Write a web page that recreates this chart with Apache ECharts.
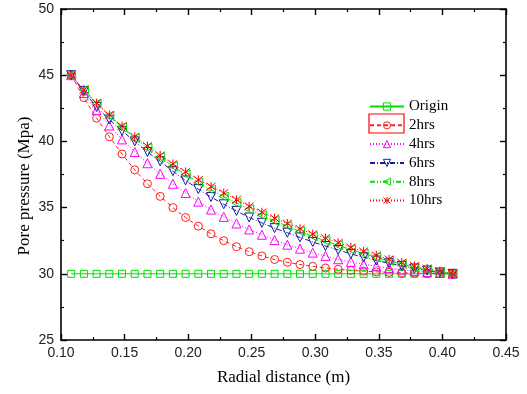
<!DOCTYPE html>
<html><head><meta charset="utf-8">
<script src="https://cdn.jsdelivr.net/npm/echarts@6/dist/echarts.min.js"></script>
<style>html,body{margin:0;padding:0;background:#fff}#c{width:527px;height:394px}</style>
</head><body><div id="c"></div>
<script>
const radius = [0.108,0.118,0.128,0.138,0.148,0.158,0.168,0.178,0.188,0.198,0.208,0.218,0.228,0.238,0.248,0.258,0.268,0.278,0.288,0.298,0.308,0.318,0.328,0.338,0.348,0.358,0.368,0.378,0.388,0.398,0.408];
const origin = [30,30,30,30,30,30,30,30,30,30,30,30,30,30,30,30,30,30,30,30,30,30,30,30,30,30,30,30,30,30,30];
const hrs2 = [45,43.3,41.75,40.35,39.05,37.85,36.8,35.85,35.0,34.25,33.6,33.02,32.5,32.05,31.67,31.35,31.08,30.87,30.7,30.56,30.44,30.34,30.26,30.2,30.15,30.11,30.08,30.05,30.03,30.01,30.0];
const hrs4 = [45,43.65,42.35,41.2,40.15,39.2,38.35,37.55,36.8,36.1,35.45,34.85,34.3,33.8,33.35,32.95,32.55,32.2,31.9,31.6,31.35,31.1,30.9,30.72,30.57,30.43,30.32,30.22,30.13,30.06,30.0];
const hrs6 = [45,43.8,42.6,41.65,40.8,40.0,39.2,38.5,37.75,37.05,36.4,35.8,35.25,34.75,34.25,33.85,33.45,33.1,32.75,32.4,32.1,31.8,31.5,31.25,31.0,30.8,30.6,30.4,30.25,30.1,30.0];
const hrs8 = [45,43.88,42.85,41.93,41.07,40.25,39.5,38.8,38.12,37.5,36.9,36.35,35.83,35.35,34.87,34.42,34.0,33.6,33.2,32.83,32.48,32.15,31.83,31.53,31.25,30.98,30.73,30.5,30.3,30.13,30.0];
const hrs10 = [45,43.9,42.9,42.0,41.15,40.35,39.65,38.95,38.3,37.7,37.1,36.6,36.1,35.6,35.1,34.65,34.2,33.8,33.4,33.0,32.7,32.35,32.0,31.7,31.4,31.1,30.85,30.6,30.4,30.2,30.0];
const seriesNames = ['Origin','2hrs','4hrs','6hrs','8hrs','10hrs'];
const xTicks = {min:0.10, max:0.45, interval:0.05};
const yTicks = {min:25, max:50, interval:5};
const xTitle = 'Radial distance (m)';
const yTitle = 'Pore pressure (Mpa)';

const pairs = v => radius.map((r,i)=>[r,v[i]]);
const clear = 'rgba(255,255,255,0)';
function mk(name, data, color, dash, symbol, size){
  return {
    name, type:'line', data:pairs(data), xAxisIndex:0, yAxisIndex:0,
    symbol, symbolSize:size, showAllSymbol:true,
    lineStyle:{color, width:1, type:dash},
    itemStyle:{color:clear, borderColor:color, borderWidth:1},
    emphasis:{disabled:true}, animation:false
  };
}
const axisBase = {
  axisLine:{show:true, onZero:false, lineStyle:{color:'#000', width:1.6}},
  axisTick:{show:true, inside:true, length:6, lineStyle:{color:'#000', width:1.4}},
  minorTick:{show:true, splitNumber:2, length:3, lineStyle:{color:'#000', width:1.2}},
  splitLine:{show:false}
};
const chart = echarts.init(document.getElementById('c'), null, {renderer:'canvas'});
chart.setOption({
  backgroundColor:'#fff',
  animation:false,
  grid:{left:61, right:21, top:9, bottom:54, containLabel:false},
  legend:{
    data:seriesNames, orient:'vertical', left:364, top:94,
    itemWidth:34, itemHeight:9, itemGap:3.8,
    itemStyle:{color:clear, borderColor:'inherit', borderWidth:1},
    textStyle:{fontFamily:'Liberation Serif', fontSize:15, color:'#000', lineHeight:15},
    selectedMode:false
  },
  xAxis:[
    Object.assign({type:'value', position:'bottom', min:xTicks.min, max:xTicks.max, interval:xTicks.interval,
      name:xTitle, nameLocation:'middle', nameGap:29,
      nameTextStyle:{fontFamily:'Liberation Serif', fontSize:17, color:'#000'},
      axisLabel:{formatter:v=>v.toFixed(2), fontFamily:'Liberation Sans', fontSize:14, color:'#222', margin:6}}, axisBase),
    Object.assign({type:'value', position:'top', min:xTicks.min, max:xTicks.max, interval:xTicks.interval,
      axisLabel:{show:false}}, axisBase)
  ],
  yAxis:[
    Object.assign({type:'value', position:'left', min:yTicks.min, max:yTicks.max, interval:yTicks.interval,
      axisLabel:{fontFamily:'Liberation Sans', fontSize:14, color:'#222', margin:7}}, axisBase),
    Object.assign({type:'value', position:'right', min:yTicks.min, max:yTicks.max, interval:yTicks.interval,
      axisLabel:{show:false}}, axisBase)
  ],
  graphic:[
    {type:'rect', shape:{x:369, y:114, width:35, height:19}, style:{fill:'none', stroke:'#ff0000', lineWidth:1.2}, z:100},
    {type:'text', x:25, y:186, rotation:Math.PI/2,
      style:{text:yTitle, font:'17px "Liberation Serif"', fill:'#000', align:'center', verticalAlign:'middle'}}
  ],
  series:[
    mk(seriesNames[0], origin, '#00dd00', 'solid', 'rect', 7),
    mk(seriesNames[1], hrs2, '#ff2020', [4,3], 'circle', 8),
    mk(seriesNames[2], hrs4, '#ff00ff', [1,2], 'triangle', 9),
    mk(seriesNames[3], hrs6, '#1a1aa6', [5,2,1,2], 'path://M0,0L10,0L5,9Z', 9),
    mk(seriesNames[4], hrs8, '#00dd00', [5,2,1,2,1,2], 'path://M0,5L9,0L9,10Z', 9),
    mk(seriesNames[5], hrs10, '#ff0000', [1,2], 'path://M1,1L9,9M9,1L1,9M5,0L5,10', 9)
  ]
});
</script></body></html>
